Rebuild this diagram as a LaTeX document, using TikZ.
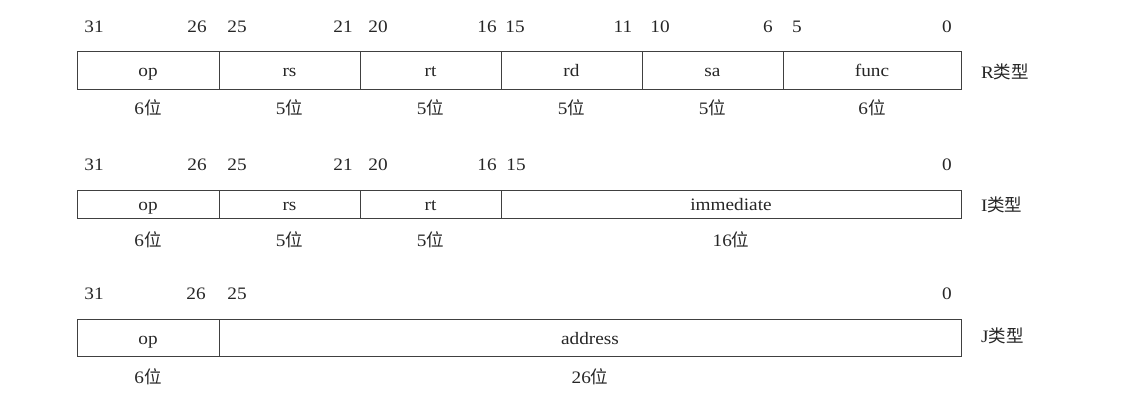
\documentclass[tikz,border=0pt]{standalone}
\usepackage{fontspec}
\setmainfont{Liberation Serif}[FakeStretch=1.1]
\newfontfamily\cjk{Noto Sans CJK SC}
\begin{document}
\begin{tikzpicture}[x=1pt,y=-1pt,
  txt/.style={inner sep=0pt,outer sep=0pt,font=\fontsize{17.5}{20}\selectfont,text=black!85,text height=14pt,text depth=0pt},
  field/.style={txt,draw=black!75,line width=0.8pt,rectangle},
  num/.style={txt},
  wid/.style={txt},
  kind/.style={txt,anchor=west}]
\useasboundingbox (0,0) rectangle (1125,411);
% ---------- R type ----------
\node[field,minimum width=142pt,minimum height=38pt] (rop) at (148,70) {op};
\node[field,minimum width=141pt,minimum height=38pt] (rrs) at (289.5,70) {rs};
\node[field,minimum width=141pt,minimum height=38pt] (rrt) at (430.5,70) {rt};
\node[field,minimum width=141pt,minimum height=38pt] (rrd) at (571.5,70) {rd};
\node[field,minimum width=141pt,minimum height=38pt] (rsa) at (712.5,70) {sa};
\node[field,minimum width=178pt,minimum height=38pt] (rfn) at (872,70) {func};
\node[kind] (rk) at (981,72) {R{\cjk 类型}};
\foreach \t/\x [count=\i] in {31/94,26/197,25/237,21/343,20/378,16/487,15/515,11/623,10/660,6/768,5/797,0/947}
  \node[num] (rn\i) at (\x,26) {\t};
\foreach \t/\x [count=\i] in {6/148,5/289.5,5/430.5,5/571.5,5/712.5,6/872}
  \node[wid] (rw\i) at (\x,108) {\t{\cjk 位}};
% ---------- I type ----------
\node[field,minimum width=142pt,minimum height=28pt] (iop) at (148,204) {op};
\node[field,minimum width=141pt,minimum height=28pt] (irs) at (289.5,204) {rs};
\node[field,minimum width=141pt,minimum height=28pt] (irt) at (430.5,204) {rt};
\node[field,minimum width=460pt,minimum height=28pt] (iim) at (731,204) {immediate};
\node[kind] (ik) at (981,205) {I{\cjk 类型}};
\foreach \t/\x [count=\i] in {31/94,26/197,25/237,21/343,20/378,16/487,15/516,0/947}
  \node[num] (in\i) at (\x,164) {\t};
\foreach \t/\x [count=\i] in {6/148,5/289.5,5/430.5,16/731}
  \node[wid] (iw\i) at (\x,240) {\t{\cjk 位}};
% ---------- J type ----------
\node[field,minimum width=142pt,minimum height=37pt] (jop) at (148,337.5) {op};
\node[field,minimum width=742pt,minimum height=37pt] (jad) at (590,337.5) {address};
\node[kind] (jk) at (981,336) {J{\cjk 类型}};
\foreach \t/\x [count=\i] in {31/94,26/196,25/237,0/947}
  \node[num] (jn\i) at (\x,293) {\t};
\foreach \t/\x [count=\i] in {6/148,26/590}
  \node[wid] (jw\i) at (\x,377) {\t{\cjk 位}};
\end{tikzpicture}
\end{document}
